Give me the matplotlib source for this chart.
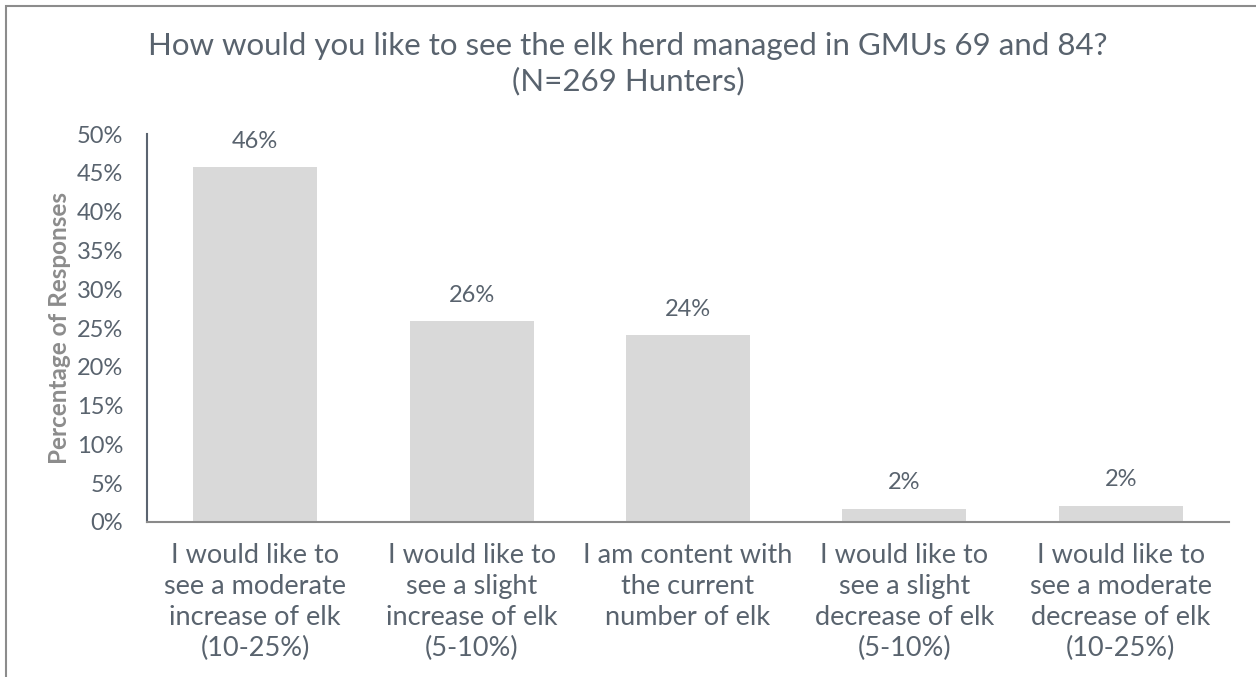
import matplotlib.pyplot as plt
from matplotlib.patches import Rectangle

plt.rcParams['font.family'] = ['Lato', 'DejaVu Sans']

categories = [
    "I would like to\nsee a moderate\nincrease of elk\n(10-25%)",
    "I would like to\nsee a slight\nincrease of elk\n(5-10%)",
    "I am content with\nthe current\nnumber of elk",
    "I would like to\nsee a slight\ndecrease of elk\n(5-10%)",
    "I would like to\nsee a moderate\ndecrease of elk\n(10-25%)",
]
values = [45.7, 25.9, 24.1, 1.7, 2.1]
value_labels = ["46%", "26%", "24%", "2%", "2%"]
yticks = [0, 5, 10, 15, 20, 25, 30, 35, 40, 45, 50]

text_color = "#59636e"
bar_color = "#d9d9d9"

fig = plt.figure(figsize=(12.56, 6.77), dpi=100)
ax = fig.add_axes([0.117, 0.229, 0.8615, 0.573])

x = range(len(categories))
bars = ax.bar(x, values, width=0.573, color=bar_color)

for b, lab in zip(bars, value_labels):
    ax.annotate(lab, (b.get_x() + b.get_width() / 2, b.get_height()),
                xytext=(0, 11), textcoords="offset points",
                ha="center", va="bottom", fontsize=17, color=text_color)

ax.set_xlim(-0.5, len(categories) - 0.5)
ax.set_ylim(0, 50)
ax.set_yticks(yticks)
ax.set_yticklabels([f"{t}%" for t in yticks])
ax.set_xticks(list(x))
ax.set_xticklabels(categories, fontsize=19.5, color=text_color, linespacing=1.3)
ax.tick_params(axis="y", length=0, labelsize=17, labelcolor=text_color, pad=17)
ax.tick_params(axis="x", length=0, pad=15)

for s in ["top", "right"]:
    ax.spines[s].set_visible(False)
ax.spines["left"].set_color("#5b6470")
ax.spines["left"].set_linewidth(1.5)
ax.spines["bottom"].set_color("#8a8a8a")
ax.spines["bottom"].set_linewidth(1.5)

ax.set_ylabel("Percentage of Responses", fontsize=17.5, fontweight="bold",
              color="#8c8c8c", labelpad=4)

fig.suptitle("How would you like to see the elk herd managed in GMUs 69 and 84?\n(N=269 Hunters)",
             x=0.5, y=0.952, fontsize=22.5, color=text_color, linespacing=1.25)

# outer frame
fig.patches.append(Rectangle((6 / 1256, -0.1), 1.2, 1 - 6 / 677 + 0.1,
                             transform=fig.transFigure, fill=False,
                             edgecolor="#8c8c8c", linewidth=1.5))

fig.savefig("out.png", dpi=100)
